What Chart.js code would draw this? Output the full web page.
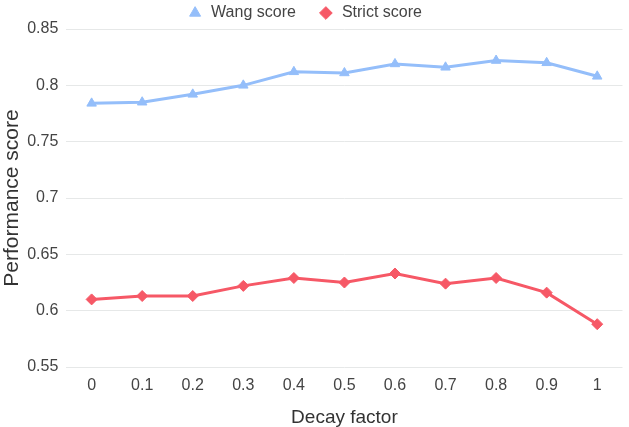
<!DOCTYPE html>
<html>
<head>
<meta charset="utf-8">
<script src="https://cdn.jsdelivr.net/npm/chart.js@4/dist/chart.umd.min.js"></script>
<style>
  html, body { margin: 0; padding: 0; background: #fff; }
  #wrap { width: 629px; height: 427px; }
</style>
</head>
<body>
<div id="wrap"><canvas id="graph"></canvas></div>
<script>
const decay = ["0", "0.1", "0.2", "0.3", "0.4", "0.5", "0.6", "0.7", "0.8", "0.9", "1"];
const wangScore = [0.784, 0.785, 0.792, 0.800, 0.812, 0.811, 0.819, 0.816, 0.822, 0.820, 0.808];
const strictScore = [0.610, 0.613, 0.613, 0.622, 0.629, 0.625, 0.633, 0.624, 0.629, 0.616, 0.588];

const BLUE = "rgb(148,190,250)";
const RED = "rgb(246,88,102)";
const FONT = "'Liberation Sans', Arial, sans-serif";

Chart.defaults.font.family = FONT;
Chart.defaults.color = "#444";

// legend keeps wide spacing between items but takes less height,
// and sits a little left of the canvas centre
const legendMargin = {
    id: "legendMargin",
    beforeInit(chart) {
        const fit = chart.legend.fit;
        chart.legend.fit = function () {
            fit.bind(chart.legend)();
            this.height -= 2;
        };
    },
    afterLayout(chart) {
        chart.legend.left -= 10;
        chart.legend.right -= 10;
    }
};

const graph = document.getElementById("graph").getContext("2d");

const chart = new Chart(graph, {
    type: "line",
    data: {
        labels: decay,
        datasets: [
            {
                label: "Wang score",
                data: wangScore,
                borderColor: BLUE,
                backgroundColor: BLUE,
                borderWidth: 3,
                pointStyle: "triangle",
                pointRadius: 5.5,
                pointBorderWidth: 1,
                tension: 0
            },
            {
                label: "Strict score",
                data: strictScore,
                borderColor: RED,
                backgroundColor: RED,
                borderWidth: 3,
                pointStyle: "rectRot",
                pointRadius: 5.5,
                pointBorderWidth: 1,
                tension: 0
            }
        ]
    },
    options: {
        maintainAspectRatio: false,
        animation: false,
        layout: { padding: { left: 0, right: 0, top: -17, bottom: -2 } },
        plugins: {
            legend: {
                position: "top",
                labels: {
                    usePointStyle: true,
                    boxWidth: 22,
                    boxHeight: 9,
                    padding: 22,
                    color: "#444",
                    font: { size: 16 }
                }
            },
            tooltip: { enabled: false }
        },
        scales: {
            x: {
                offset: true,
                grid: { display: false, drawTicks: false },
                border: { display: false },
                ticks: { padding: 9, color: "#444", font: { size: 16 } },
                afterFit(scale) {
                    scale.paddingRight = 0;
                },
                title: {
                    display: true,
                    text: "Decay factor",
                    color: "#333",
                    font: { size: 19 },
                    padding: { top: 2, bottom: 0 }
                }
            },
            y: {
                min: 0.55,
                max: 0.85,
                grid: { color: "#e6e8e8", lineWidth: 1, drawTicks: false },
                border: { display: false },
                ticks: {
                    stepSize: 0.05,
                    padding: 8,
                    color: "#444",
                    font: { size: 16 },
                    callback: v => String(+v.toFixed(2))
                },
                title: {
                    display: true,
                    text: "Performance score",
                    color: "#333",
                    font: { size: 21 },
                    padding: { top: 0, bottom: -6 }
                }
            }
        }
    },
    plugins: [legendMargin]
});
</script>
</body>
</html>
